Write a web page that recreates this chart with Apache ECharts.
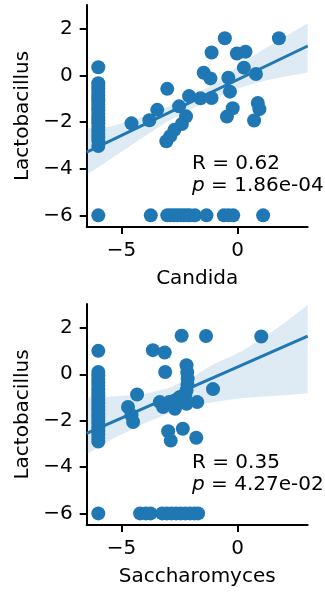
<!DOCTYPE html>
<html>
<head>
<meta charset="utf-8">
<script src="https://cdn.jsdelivr.net/npm/echarts@6/dist/echarts.min.js"></script>
<style>
  html, body { margin: 0; padding: 0; background: #fff; }
  #chart { width: 325px; height: 592px; }
</style>
</head>
<body>
<div id="chart"></div>
<script>
// ---- Panel 1: Candida vs Lactobacillus ----
const candida = [
  -6, -6, -6, -6, -6, -6, -6, -6, -6, -6, -6, -6, -6, -6, -6, -6, -6, -6, -6, -6, -6, -6,
  -4.57, -3.8, -3.46, -3.03, -3.07, -2.9, -2.72, -2.4, -2.52, -2.22, -2.09, -1.6, -1.12,
  -1.46, -1.17, -1.12, -0.55, -0.40, -0.33, -0.21, -0.46, -0.03, 0.34, 0.27, 0.79, 0.87,
  0.94, 0.71, 1.78,
  -3.74, -3.03, -2.88, -2.74, -2.6, -2.46, -2.32, -2.18, -2.06, -1.84, -1.34, -0.59, -0.4,
  -0.19, 1.10
];
const lactoVsCandida = [
  0.36, -0.33, -0.45, -0.58, -0.7, -0.85, -0.98, -1.1, -1.25, -1.38, -1.5, -1.65, -1.78,
  -1.92, -2.05, -2.2, -2.35, -2.5, -2.65, -2.8, -3.02, -6,
  -2.05, -1.92, -1.47, -0.57, -2.82, -2.6, -2.33, -2.08, -1.32, -1.75, -0.88, -0.97, -0.96,
  0.12, -0.12, 0.99, 1.60, -0.09, -0.69, -1.40, -1.76, 0.95, 1.02, 0.34, 0.07, -1.18,
  -1.44, -1.93, 1.60,
  -6, -6, -6, -6, -6, -6, -6, -6, -6, -6, -6, -6, -6,
  -6, -6
];

// ---- Panel 2: Saccharomyces vs Lactobacillus ----
const saccharomyces = [
  -6, -6, -6, -6, -6, -6, -6, -6, -6, -6, -6, -6, -6, -6, -6, -6, -6, -6, -6, -6, -6, -6, -6,
  -3.65, -3.14, -2.41, -1.36, 1.02, -3.12, -2.2, -2.17, -2.15, -2.16, -2.2, -2.25, -4.33,
  -4.72, -4.57, -4.5, -3.35, -3.21, -2.95, -2.7, -2.49, -2.2, -1.74, -1.06, -2.99, -2.36,
  -1.78, -2.88,
  -4.2, -3.95, -3.75, -3.25, -3.05, -2.85, -2.65, -2.45, -2.25, -2.05, -1.85, -1.7
];
const lactoVsSacch = [
  1.01, 0.1, -0.05, -0.2, -0.35, -0.5, -0.65, -0.8, -0.95, -1.1, -1.25, -1.4, -1.55, -1.7,
  -1.85, -2.0, -2.15, -2.3, -2.45, -2.6, -2.75, -2.9, -6,
  1.04, 0.94, 1.66, 1.65, 1.63, 0.1, 0.39, 0.1, -0.19, -0.45, -0.7, -0.92, -0.87,
  -1.41, -1.77, -2.06, -1.2, -1.41, -1.2, -1.49, -0.98, -1.27, -1.2, -0.64, -2.46, -2.35,
  -2.74, -2.86,
  -6, -6, -6, -6, -6, -6, -6, -6, -6, -6, -6, -6
];

// ---- Regression fits and confidence bands ----
const fitX = [-6.5, 3.02];
const fitCandida = [-3.29, 1.27];
const fitSacch = [-2.55, 1.64];

const bandX = [-6.5, -5.5, -4, -3, -2, -1, 0, 1, 2, 3.02];
const bandCandidaUpper = [-2.26, -2.2, -1.75, -1.35, -0.9, -0.35, 0.4, 1.05, 1.65, 2.25];
const bandCandidaLower = [-4.26, -3.6, -2.6, -1.95, -1.45, -0.95, -0.55, -0.25, -0.05, 0.13];
const bandSacchUpper = [-1.0, -0.97, -0.85, -0.6, -0.15, 0.45, 0.9, 1.5, 2.2, 2.99];
const bandSacchLower = [-3.45, -2.85, -2.1, -1.7, -1.4, -1.2, -1.05, -0.97, -0.9, -0.82];

// ---- Axis ticks and labels ----
const xTicks = [-5, 0];
const yTicks = [-6, -4, -2, 0, 2];
const xNames = ['Candida', 'Saccharomyces'];
const yName = 'Lactobacillus';
const statR = ['0.62', '0.35'];
const statP = ['1.86e-04', '4.27e-02'];

const FONT = 'DejaVu Sans';
const BLUE = '#1f77b4';
const INK = '#000';

function pairs(xs, ys) { return xs.map((x, i) => [x, ys[i]]); }
const minus = v => String(v).replace('-', '\u2212');

function xAxisFor(i) {
  return {
    type: 'value', gridIndex: i, min: -6.5, max: 3.02,
    splitLine: { show: false },
    axisLine: { onZero: false, lineStyle: { color: INK, width: 2 } },
    axisTick: { customValues: xTicks, length: 7, lineStyle: { color: INK, width: 2 } },
    axisLabel: { customValues: xTicks, formatter: minus, fontSize: 20, fontFamily: FONT, color: INK, margin: 14 },
    name: xNames[i], nameLocation: 'middle', nameGap: 42,
    nameTextStyle: { fontSize: 20, fontFamily: FONT, color: INK }
  };
}
function yAxisFor(i) {
  return {
    type: 'value', gridIndex: i, min: -6.5, max: 3.03,
    splitLine: { show: false },
    axisLine: { onZero: false, lineStyle: { color: INK, width: 2 } },
    axisTick: { customValues: yTicks, length: 7, lineStyle: { color: INK, width: 2 } },
    axisLabel: { customValues: yTicks, formatter: minus, fontSize: 20, fontFamily: FONT, color: INK, margin: 14 },
    name: yName, nameLocation: 'middle', nameGap: 49,
    nameTextStyle: { fontSize: 20, fontFamily: FONT, color: INK }
  };
}

function bandSeries(i, upper, lower) {
  return {
    type: 'custom', xAxisIndex: i, yAxisIndex: i, z: 1, silent: true,
    data: [[bandX[0], upper[0]]],
    renderItem: function (params, api) {
      const top = bandX.map((x, k) => api.coord([x, upper[k]]));
      const bot = bandX.map((x, k) => api.coord([x, lower[k]])).reverse();
      return {
        type: 'polygon',
        shape: { points: top.concat(bot) },
        style: { fill: BLUE, opacity: 0.15 }
      };
    }
  };
}
function scatterSeries(i, xs, ys) {
  return {
    type: 'scatter', xAxisIndex: i, yAxisIndex: i, z: 2,
    symbolSize: 14, itemStyle: { color: BLUE, opacity: 1 },
    data: pairs(xs, ys)
  };
}
function fitSeries(i, ys) {
  return {
    type: 'line', xAxisIndex: i, yAxisIndex: i, z: 3,
    showSymbol: false, symbol: 'none',
    lineStyle: { color: BLUE, width: 3 },
    data: pairs(fitX, ys)
  };
}
function statText(i, top) {
  return {
    type: 'text', left: 192, top: top,
    style: {
      text: '{n|R = ' + statR[i] + '}\n{it|p}{n| = ' + statP[i] + '}',
      rich: {
        n: { fontSize: 20, fontFamily: FONT, fill: INK, lineHeight: 22 },
        it: { fontSize: 20, fontFamily: FONT, fontStyle: 'italic', fill: INK, lineHeight: 22 }
      }
    }
  };
}

const chart = echarts.init(document.getElementById('chart'), null, { renderer: 'canvas' });
chart.setOption({
  animation: false,
  backgroundColor: '#fff',
  grid: [
    { left: 86.7, top: 5, width: 221, height: 222 },
    { left: 86.7, top: 304, width: 221, height: 221 }
  ],
  xAxis: [xAxisFor(0), xAxisFor(1)],
  yAxis: [yAxisFor(0), yAxisFor(1)],
  series: [
    bandSeries(0, bandCandidaUpper, bandCandidaLower),
    scatterSeries(0, candida, lactoVsCandida),
    fitSeries(0, fitCandida),
    bandSeries(1, bandSacchUpper, bandSacchLower),
    scatterSeries(1, saccharomyces, lactoVsSacch),
    fitSeries(1, fitSacch)
  ],
  graphic: [statText(0, 154), statText(1, 453)]
});
</script>
</body>
</html>
